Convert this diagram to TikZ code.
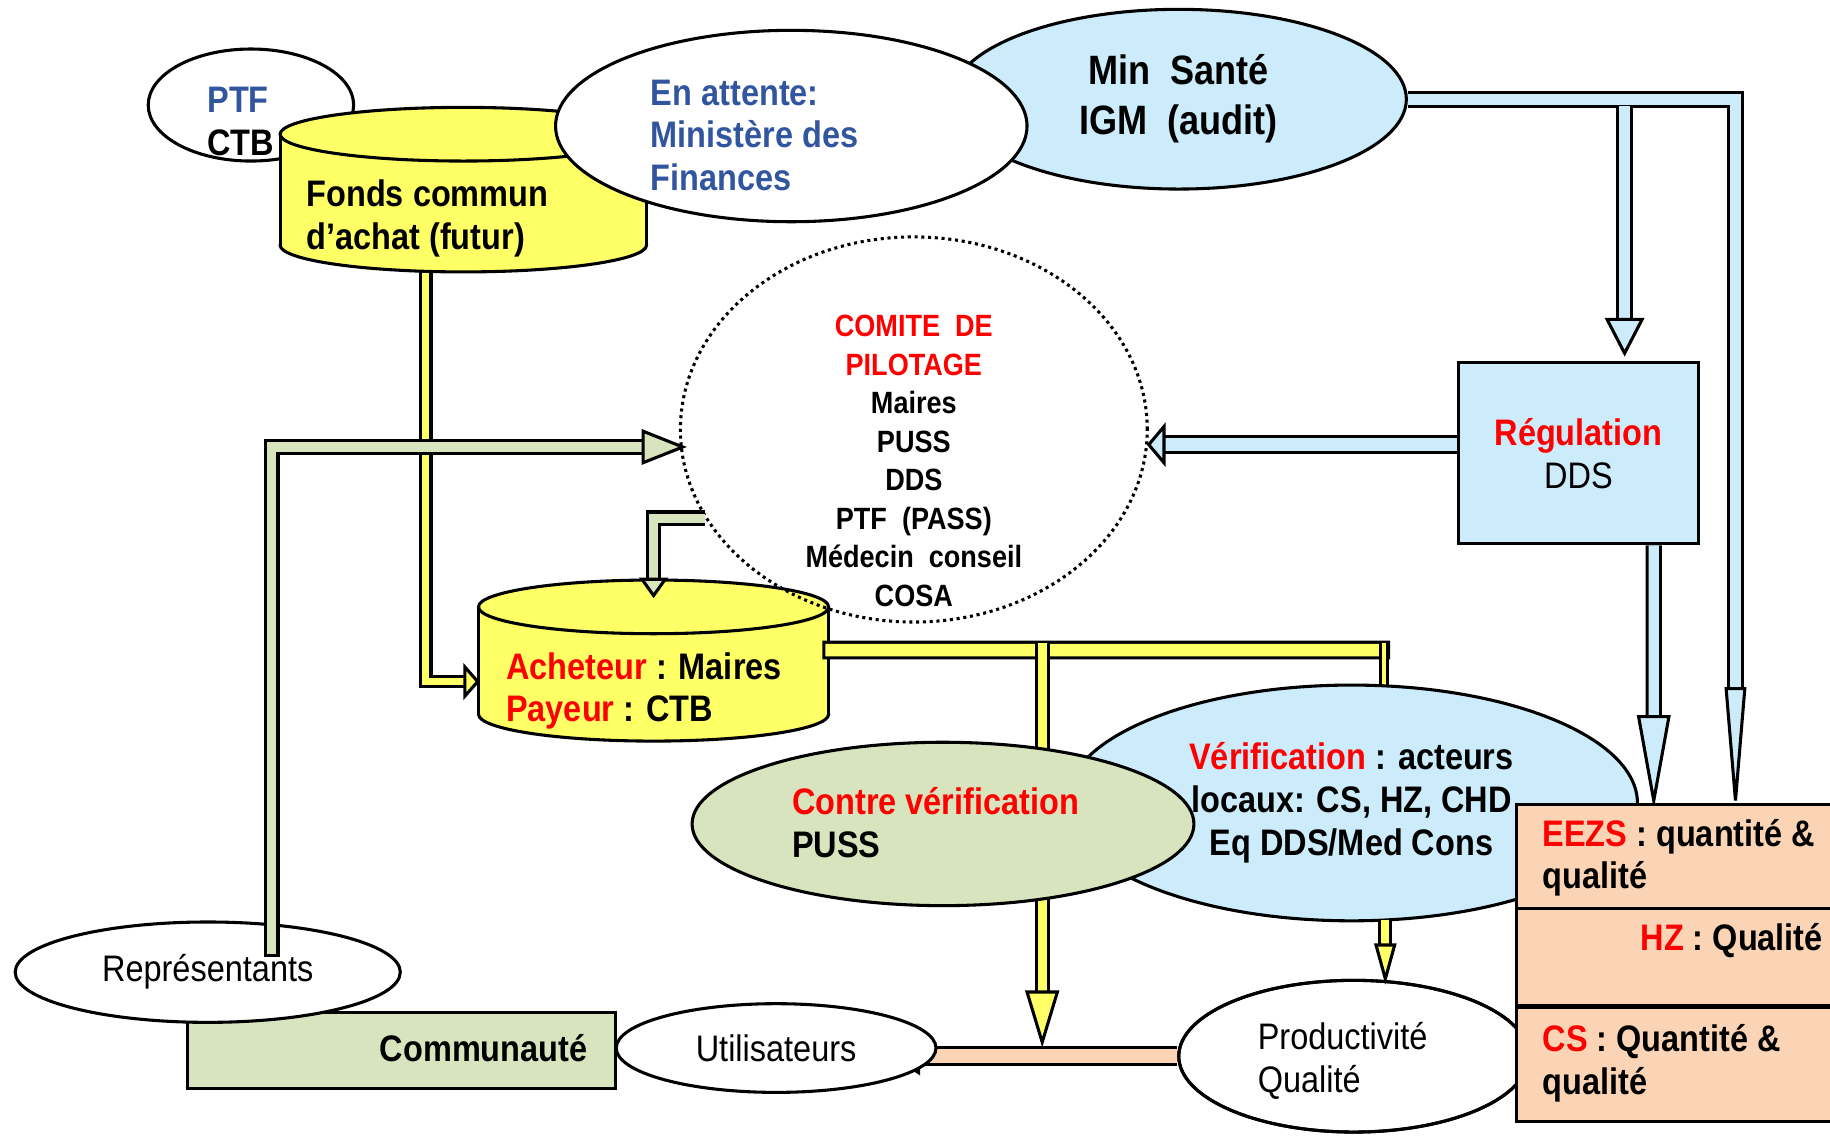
\documentclass[tikz,border=0pt]{standalone}
\usepackage{fontspec}
\setmainfont{Liberation Sans}[FakeStretch=0.88]
\usetikzlibrary{shapes.geometric}
\definecolor{yel}{RGB}{255,255,102}
\definecolor{blu}{RGB}{204,236,252}
\definecolor{grn}{RGB}{215,228,189}
\definecolor{pch}{RGB}{250,212,180}
\definecolor{txtblue}{RGB}{50,85,160}
\tikzset{
	bx/.style={draw, line width=0.75pt, inner sep=0pt},
	ell/.style={ellipse, draw, line width=0.75pt, inner sep=0pt},
	txt/.style={font=\fontsize{9}{10.4}\selectfont\bfseries, align=left, inner sep=0pt},
	thin/.style={font=\fontsize{9}{10.4}\selectfont, align=left, inner sep=0pt},
	bar/.style 2 args={draw=black, line width=0.75pt, double=#1, double distance=#2, line join=miter, line cap=rect},
	head/.style={draw, fill=#1, line width=0.75pt, line join=miter},
	cyl/.style={draw, fill=yel, line width=0.75pt},
}
\begin{document}
\begin{tikzpicture}[x=0.1mm, y=-0.1mm]
	\useasboundingbox (0,0) rectangle (1568,973);
	\clip (0,0) rectangle (1568,973);

	\node [bx, fill=grn, minimum width=36.6mm, minimum height=6.5mm] (comm) at (344,900) {};
	\node [txt, anchor=east] (commtxt) at (504,898) {Communauté};
	\node [ell, fill=white, minimum width=33mm, minimum height=8.6mm, thin] (rep) at (178,833) {Représentants};

	\node [minimum width=31.4mm, minimum height=14.1mm, inner sep=0pt] (fonds) at (397,162.5) {};
	\node [minimum width=30mm, minimum height=13.8mm, inner sep=0pt] (ach) at (560,566) {};
	\coordinate (atip) at ([yshift=-1.8mm]ach.west);
	\draw [bar={yel}{0.6mm}, line cap=butt] ([xshift=-3.2mm,yshift=0.7mm]fonds.south) |- ([xshift=-1.1mm]atip);
	\path [head=yel] (atip) -- ++(-11,-12.5) -- ++(0,25) -- cycle;

	\coordinate (btip) at (585,383);
	\draw [bar={grn}{0.78mm}] ([xshift=5.5mm,yshift=-2.5mm]rep.north) |- ([xshift=-3.4mm]btip);
	\path [head=grn] (btip) -- ++(-34,-13.5) -- ++(0,27) -- cycle;

	\node [ell, fill=white, minimum width=17.6mm, minimum height=9.6mm] (ptf) at (215,90) {};
	\node [txt, anchor=west] (ptftxt) at (177,104) {\textcolor{txtblue}{PTF}\\CTB};

	\filldraw [cyl] (397,210) ellipse [x radius=15.7mm, y radius=2.3mm];
	\fill [yel] (240,115) rectangle (554,210);
	\draw [line width=0.75pt] (240,115) -- (240,210) (554,115) -- (554,210);
	\filldraw [cyl] (397,115) ellipse [x radius=15.7mm, y radius=2.3mm];
	\node [txt, anchor=west] (fondstxt) at (262,187) {Fonds commun\\d’achat (futur)};

	\node [ell, fill=blu, minimum width=39mm, minimum height=15.4mm, font=\fontsize{10}{12.2}\selectfont\bfseries, align=center] (minsante) at (1010,85) {Min~~Santé\\IGM~~(audit)};
	\node [ell, fill=white, minimum width=40.4mm, minimum height=16.4mm] (attente) at (678,108) {};
	\node [txt, anchor=west, text=txtblue] (attentetxt) at (557,116) {En attente:\\Ministère des\\Finances};

	\draw [bar={blu}{0.93mm}, line cap=butt] (minsante.east) -| (1487,590);
	\path [head=blu] (1487,686) -- ++(-8,-96) -- ++(16,0) -- cycle;
	\node [bx, fill=blu, minimum width=20.5mm, minimum height=15.5mm, thin, align=center] (reg) at (1352.5,388.5) {\textbf{\textcolor{red}{Régulation}}\\DDS};
	\coordinate (dtip) at ([yshift=0.7mm]reg.north -| 1392,0);
	\draw [bar={blu}{0.98mm}, line cap=butt] (1392,91) -- ([yshift=2.9mm]dtip);
	\path [head=blu] (dtip) -- ++(-15,-29) -- ++(30,0) -- cycle;
	\draw [bar={blu}{0.88mm}, line cap=butt] ([xshift=6.45mm]reg.south) -- (1417,614);
	\path [head=blu] (1417,686) -- ++(-13,-72) -- ++(26,0) -- cycle;

	\filldraw [cyl] (560,612) ellipse [x radius=15mm, y radius=2.3mm];
	\fill [yel] (410,520) rectangle (710,612);
	\draw [line width=0.75pt] (410,520) -- (410,612) (710,520) -- (710,612);
	\filldraw [cyl] (560,520) ellipse [x radius=15mm, y radius=2.3mm];
	\node [txt, anchor=west] (achtxt) at (433,592) {\textcolor{red}{Acheteur} : Maires\\\textcolor{red}{Payeur} : CTB};

	\node [ellipse, draw, line width=0.75pt, dash pattern=on 0.75pt off 0.9pt, minimum width=40mm, minimum height=33mm, inner sep=0pt] (comite) at (783,368) {};
	\node [font=\fontsize{7.5}{9.4}\selectfont\bfseries, align=center, inner sep=0pt] (comitetxt) at (783,395) {\textcolor{red}{COMITE~~DE}\\\textcolor{red}{PILOTAGE}\\Maires\\PUSS\\DDS\\PTF~~(PASS)\\Médecin~~conseil\\COSA};
	\coordinate (ctip) at ([yshift=-1.4mm]ach.north);
	\draw [bar={grn}{0.8mm}, line cap=butt] (comite.203.5) -| ([yshift=1.4mm]ctip);
	\path [head=grn] (ctip) -- ++(-10,-14) -- ++(20,0) -- cycle;

	\coordinate (ftip) at ([yshift=0.75mm]reg.west -| comite.east);
	\draw [bar={blu}{1.08mm}, line cap=butt] ([yshift=0.75mm]reg.west) -- ([xshift=1.3mm]ftip);
	\path [head=blu] (ftip) -- ++(13,-15.5) -- ++(0,31) -- cycle;

	\draw [bar={yel}{1.08mm}] ([xshift=0.2mm,yshift=0.9mm]ach.east) -- (1183,557);
	\draw [bar={yel}{0.78mm}, line cap=butt] (893,551) -- (893,850);
	\draw [bar={yel}{0.38mm}, line cap=butt] (1186,551) -- (1186,595);

	\node [ell, fill=blu, minimum width=49mm, minimum height=20.2mm, txt, align=center] (verif) at (1158,688) {\textcolor{red}{Vérification} : acteurs\\locaux: CS, HZ, CHD\\Eq DDS/Med Cons};
	\node [ell, fill=grn, minimum width=43mm, minimum height=14mm] (contre) at (808,706) {};
	\node [txt, anchor=west] (contretxt) at (678,705) {\textcolor{red}{Contre vérification}\\PUSS};
	\path [head=yel] (893,893) -- ++(-13,-43) -- ++(26,0) -- cycle;

	\node [ell, fill=white, minimum width=30mm, minimum height=13mm] (prod) at (1160,905) {};
	\draw [bar={yel}{0.68mm}, line cap=butt] (1187,788) -- (1187,811);
	\path [head=yel] (prod.north -| 1187,0) -- ++(-8,-29) -- ++(16,0) -- cycle;
	\draw [bar={pch}{1.18mm}, line cap=butt] (prod.west) -- (787,905);
	\path [head=pch] (765,905) -- ++(22,-14) -- ++(0,28) -- cycle;
	\node [ell, fill=white, minimum width=27.4mm, minimum height=7.6mm, thin] (util) at (665,898) {Utilisateurs};
	\draw [line width=0.75pt] (prod.center) ellipse [x radius=15mm, y radius=6.5mm];
	\node [thin, anchor=west] (prodtxt) at (1077,909) {Productivité\\Qualité};

	\node [bx, fill=pch, minimum width=30mm, minimum height=8.9mm, anchor=north west] (eezs) at (1298,688) {};
	\node [bx, fill=pch, minimum width=30mm, minimum height=8.3mm, anchor=north west] (hz) at (1298,777) {};
	\node [bx, fill=pch, minimum width=30mm, minimum height=9.8mm, anchor=north west] (cs) at (1298,862) {};
	\node [txt, anchor=west] (eezstxt) at (1321,735) {\textcolor{red}{EEZS} : quantité \&\\qualité};
	\node [txt, anchor=west] (hztxt) at (1405,806) {\textcolor{red}{HZ} : Qualité};
	\node [txt, anchor=west] (cstxt) at (1321,911) {\textcolor{red}{CS} : Quantité \&\\qualité};
\end{tikzpicture}
\end{document}
